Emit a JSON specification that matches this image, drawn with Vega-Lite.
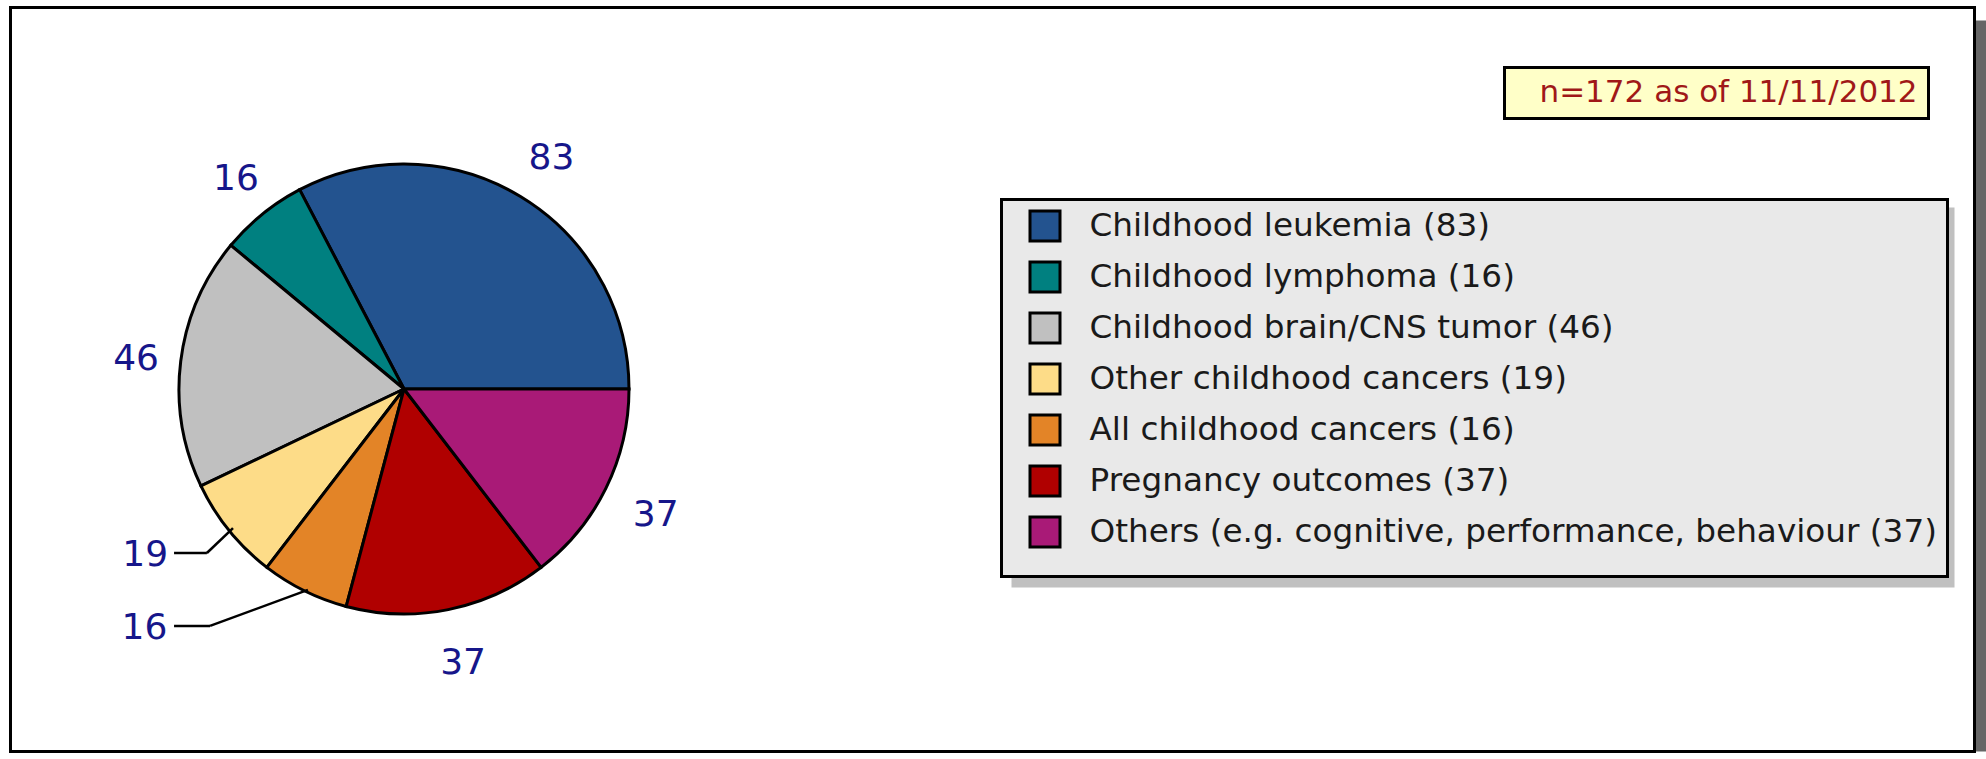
{
  "$schema": "https://vega.github.io/schema/vega-lite/v6.json",
  "width": 1964,
  "height": 744,
  "autosize": {"type": "none"},
  "padding": {"left": 10.5, "top": 7.5, "right": 11.5, "bottom": 7.5},
  "background": "white",
  "config": {"view": {"stroke": null}, "legend": {"strokeWidth": 3}},
  "data": {
    "values": [
      {"label": "Childhood leukemia (83)", "value": 83, "ord": 7},
      {"label": "Childhood lymphoma (16)", "value": 16, "ord": 6},
      {"label": "Childhood brain/CNS tumor (46)", "value": 46, "ord": 5},
      {"label": "Other childhood cancers (19)", "value": 19, "ord": 4},
      {"label": "All childhood cancers (16)", "value": 16, "ord": 3},
      {"label": "Pregnancy outcomes (37)", "value": 37, "ord": 2},
      {"label": "Others (e.g. cognitive, performance, behaviour (37)", "value": 37, "ord": 1}
    ]
  },
  "layer": [
    {
      "data": {"values": [{}]},
      "mark": {"type": "rect", "fill": "#666666", "xOffset": 13, "x2Offset": 13, "yOffset": 13, "y2Offset": 13},
      "encoding": {}
    },
    {
      "data": {"values": [{}]},
      "mark": {"type": "rect", "fill": "white", "stroke": "black", "strokeWidth": 3},
      "encoding": {}
    },
    {
      "mark": {"type": "point", "opacity": 0},
      "encoding": {
        "color": {
          "field": "value", "type": "quantitative",
          "scale": {"range": ["#c0c0c0", "#c0c0c0"]},
          "legend": {
            "type": "gradient", "direction": "vertical",
            "orient": "none", "legendX": 1001, "legendY": 200, "zindex": 1,
            "title": null, "padding": 0, "fillColor": null, "strokeColor": null,
            "gradientLength": 380, "gradientThickness": 943, "gradientStrokeWidth": 0,
            "labelExpr": "''", "labelOffset": 0, "labelFontSize": 1, "tickCount": 2
          }
        }
      }
    },
    {
      "mark": {"type": "arc", "radius": 225, "stroke": "black", "strokeWidth": 3},
      "encoding": {
        "theta": {"field": "value", "type": "quantitative", "stack": true, "scale": {"range": [1.5707963268, 7.8539816340]}},
        "order": {"field": "ord", "type": "quantitative", "sort": "ascending"},
        "x": {"datum": 0, "type": "quantitative", "scale": {"domain": [-1.74889, 6.98], "nice": false, "zero": false}, "axis": null},
        "y": {"datum": 0, "type": "quantitative", "scale": {"domain": [-1.61111, 1.69556], "nice": false, "zero": false}, "axis": null},
        "fill": {
          "field": "label", "type": "nominal",
          "scale": {
            "domain": ["Childhood leukemia (83)", "Childhood lymphoma (16)", "Childhood brain/CNS tumor (46)", "Other childhood cancers (19)", "All childhood cancers (16)", "Pregnancy outcomes (37)", "Others (e.g. cognitive, performance, behaviour (37)"],
            "range": ["#23538f", "#008080", "#c0c0c0", "#fddc88", "#e38427", "#b00000", "#a91a77"]
          },
          "legend": {
            "orient": "none", "legendX": 991, "legendY": 192, "zindex": 2,
            "title": " ", "titleOrient": "bottom", "titleFontSize": 13, "titlePadding": 0,
            "fillColor": "#e9e9e9", "strokeColor": "black", "padding": 10,
            "symbolType": "square", "symbolSize": 900, "symbolStrokeColor": "black", "symbolStrokeWidth": 3, "symbolOffset": 17,
            "labelOffset": 28, "labelFont": "DejaVu Sans", "labelFontSize": 32.7, "labelColor": "#1a1a1a", "labelLimit": 2000,
            "rowPadding": 8,
            "encode": {"legend": {"update": {"strokeWidth": {"value": 3}}}}
          }
        }
      }
    },
    {
      "mark": {"type": "text", "radius": 275, "font": "DejaVu Sans", "fontSize": 36, "fill": "#16168a", "dx": 5, "dy": 4},
      "encoding": {
        "theta": {"field": "value", "type": "quantitative", "stack": true, "scale": {"range": [1.5707963268, 7.8539816340]}},
        "order": {"field": "ord", "type": "quantitative", "sort": "ascending"},
        "x": {"datum": 0, "type": "quantitative"},
        "y": {"datum": 0, "type": "quantitative"},
        "text": {"condition": {"test": "datum.ord != 4 && datum.ord != 3", "field": "value", "type": "quantitative"}, "value": ""}
      }
    },
    {
      "mark": {"type": "text", "radius": 275, "font": "DejaVu Sans", "fontSize": 36, "fill": "#16168a", "dx": -45, "dy": -7},
      "encoding": {
        "theta": {"field": "value", "type": "quantitative", "stack": true, "scale": {"range": [1.5707963268, 7.8539816340]}},
        "order": {"field": "ord", "type": "quantitative", "sort": "ascending"},
        "x": {"datum": 0, "type": "quantitative"},
        "y": {"datum": 0, "type": "quantitative"},
        "text": {"condition": {"test": "datum.ord == 4", "field": "value", "type": "quantitative"}, "value": ""}
      }
    },
    {
      "mark": {"type": "text", "radius": 275, "font": "DejaVu Sans", "fontSize": 36, "fill": "#16168a", "dx": -138, "dy": -8},
      "encoding": {
        "theta": {"field": "value", "type": "quantitative", "stack": true, "scale": {"range": [1.5707963268, 7.8539816340]}},
        "order": {"field": "ord", "type": "quantitative", "sort": "ascending"},
        "x": {"datum": 0, "type": "quantitative"},
        "y": {"datum": 0, "type": "quantitative"},
        "text": {"condition": {"test": "datum.ord == 3", "field": "value", "type": "quantitative"}, "value": ""}
      }
    },
    {
      "data": {"values": [{}]},
      "mark": {"type": "rule", "stroke": "black", "strokeWidth": 2.5},
      "encoding": {
        "x": {"datum": -1.022, "type": "quantitative"}, "y": {"datum": -0.729, "type": "quantitative"},
        "x2": {"datum": -0.876}, "y2": {"datum": -0.729}
      }
    },
    {
      "data": {"values": [{}]},
      "mark": {"type": "rule", "stroke": "black", "strokeWidth": 2.5},
      "encoding": {
        "x": {"datum": -0.876, "type": "quantitative"}, "y": {"datum": -0.729, "type": "quantitative"},
        "x2": {"datum": -0.760}, "y2": {"datum": -0.618}
      }
    },
    {
      "data": {"values": [{}]},
      "mark": {"type": "rule", "stroke": "black", "strokeWidth": 2.5},
      "encoding": {
        "x": {"datum": -1.022, "type": "quantitative"}, "y": {"datum": -1.053, "type": "quantitative"},
        "x2": {"datum": -0.862}, "y2": {"datum": -1.053}
      }
    },
    {
      "data": {"values": [{}]},
      "mark": {"type": "rule", "stroke": "black", "strokeWidth": 2.5},
      "encoding": {
        "x": {"datum": -0.862, "type": "quantitative"}, "y": {"datum": -1.053, "type": "quantitative"},
        "x2": {"datum": -0.427}, "y2": {"datum": -0.893}
      }
    },
    {
      "data": {"values": [{"note": "n=172 as of 11/11/2012"}]},
      "mark": {"type": "point", "opacity": 0},
      "encoding": {
        "shape": {
          "field": "note", "type": "nominal",
          "legend": {
            "orient": "none", "legendX": 1494, "legendY": 60, "zindex": 3,
            "title": null, "fillColor": "#ffffc8", "strokeColor": "black", "padding": 10,
            "symbolSize": 1, "symbolOpacity": 0, "symbolOffset": 0, "symbolStrokeWidth": 0,
            "labelOffset": -6, "labelFont": "DejaVu Sans", "labelFontSize": 31, "labelColor": "#a01818", "labelLimit": 2000,
            "encode": {"legend": {"update": {"strokeWidth": {"value": 3}}}}
          }
        }
      }
    }
  ]
}
